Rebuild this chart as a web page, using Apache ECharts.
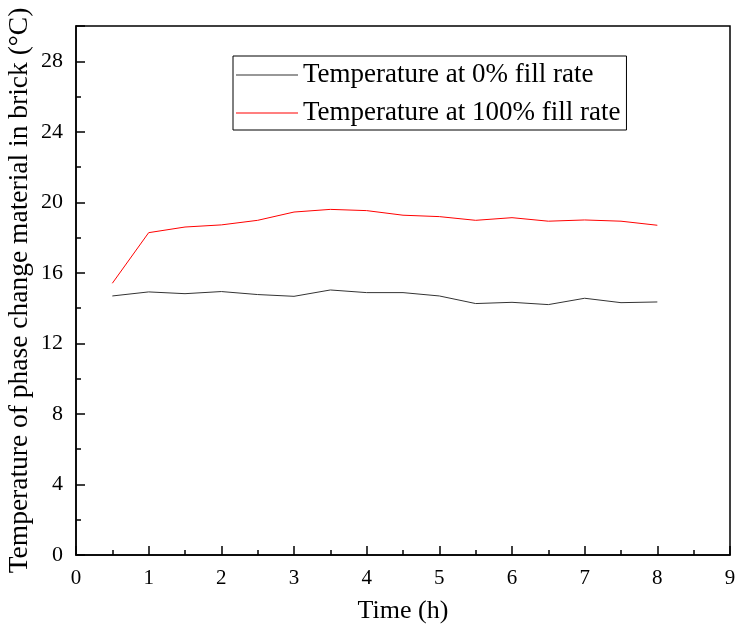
<!DOCTYPE html>
<html>
<head>
<meta charset="utf-8">
<script src="https://cdn.jsdelivr.net/npm/echarts@6/dist/echarts.min.js"></script>
<style>
  html, body { margin: 0; padding: 0; background: #fff; }
  #chart { width: 737px; height: 631px; }
</style>
</head>
<body>
<div id="chart"></div>
<script>
// time in hours
var hours = [0.5, 1, 1.5, 2, 2.5, 3, 3.5, 4, 4.5, 5, 5.5, 6, 6.5, 7, 7.5, 8]
// temperatures
var tempFill0 = [14.69, 14.92, 14.82, 14.94, 14.77, 14.67, 15.03, 14.88, 14.88, 14.69, 14.26, 14.33, 14.2, 14.56, 14.31, 14.35]
var tempFill100 = [15.41, 18.28, 18.6, 18.72, 18.98, 19.45, 19.6, 19.53, 19.27, 19.19, 18.98, 19.13, 18.93, 19.0, 18.93, 18.7]
var seriesNames = ['Temperature at 0% fill rate', 'Temperature at 100% fill rate']

function pairs(xs, ys) {
    return xs.map(function (x, i) { return [x, ys[i]] })
}

var font = 'Liberation Serif, Times New Roman, serif'
var chart = echarts.init(document.getElementById('chart'))

chart.setOption({
    animation: false,
    grid: {left: 76, right: 7, top: 26, bottom: 76, outerBoundsMode: 'none', show: true, borderColor: '#000', borderWidth: 1.5},
    legend: {
        data: seriesNames,
        orient: 'vertical',
        left: 233, top: 56,
        padding: [4, 6, 2, 3],
        icon: 'rect',
        itemWidth: 62, itemHeight: 1, itemGap: 8,
        borderColor: '#000', borderWidth: 1,
        textStyle: {fontFamily: font, fontSize: 27, color: '#000', lineHeight: 30}
    },
    xAxis: {
        type: 'value', min: 0, max: 9, interval: 1,
        name: 'Time (h)', nameLocation: 'middle', nameGap: 43,
        nameTextStyle: {fontFamily: font, fontSize: 26, color: '#000'},
        axisLine: {lineStyle: {color: '#000', width: 1.5}},
        axisTick: {inside: true, length: 9, lineStyle: {color: '#000', width: 1.5}},
        minorTick: {show: true, splitNumber: 2, length: 5, lineStyle: {color: '#000', width: 1.5}},
        axisLabel: {fontFamily: font, fontSize: 21, color: '#000', margin: 13},
        splitLine: {show: false}
    },
    yAxis: [{
        type: 'value', min: 0, max: 30, interval: 4,
        name: 'Temperature of phase change material in brick (°C)', nameLocation: 'middle', nameGap: 42,
        nameMoveOverlap: false,
        nameTextStyle: {fontFamily: font, fontSize: 27.5, color: '#000'},
        axisLine: {lineStyle: {color: '#000', width: 1.5}},
        axisTick: {inside: true, length: 9, lineStyle: {color: '#000', width: 1.5}},
        axisLabel: {
            fontFamily: font, fontSize: 22, color: '#000', margin: 13,
            formatter: function (v) { return v % 4 === 0 ? String(v) : '' }
        },
        splitLine: {show: false}
    }, {
        // short ticks every 2
        type: 'value', min: 0, max: 30, interval: 2, position: 'left', offset: 0,
        axisLine: {show: false},
        axisTick: {inside: true, length: 5, lineStyle: {color: '#000', width: 1.5}},
        axisLabel: {show: false},
        splitLine: {show: false}
    }],
    series: [{
        name: seriesNames[0], type: 'line', symbol: 'none',
        data: pairs(hours, tempFill0),
        lineStyle: {color: '#333', width: 1}, itemStyle: {color: '#333'}
    }, {
        name: seriesNames[1], type: 'line', symbol: 'none',
        data: pairs(hours, tempFill100),
        lineStyle: {color: '#ff0000', width: 1}, itemStyle: {color: '#ff0000'}
    }]
})
</script>
</body>
</html>
